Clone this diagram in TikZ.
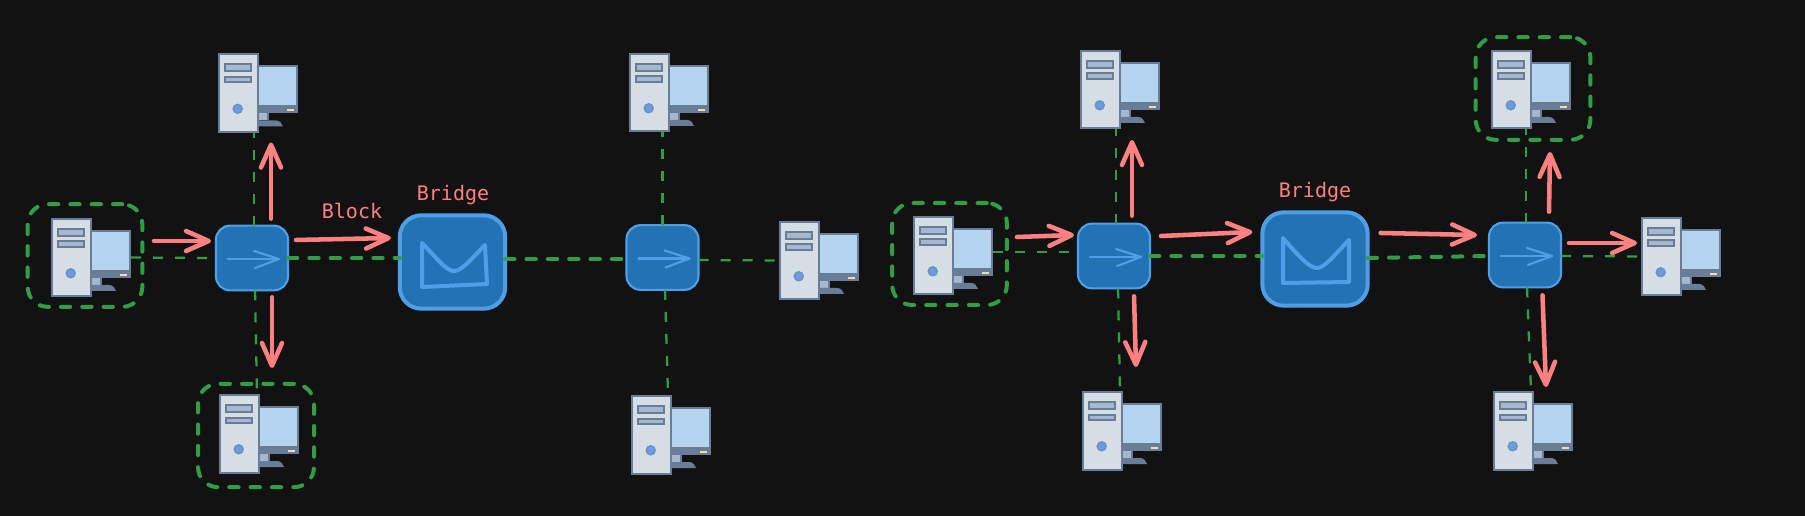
\documentclass[tikz,border=0pt]{standalone}
\usepackage{fontspec}
\setmonofont{DejaVu Sans Mono}
\usetikzlibrary{arrows.meta}
\definecolor{bgc}{HTML}{121212}
\definecolor{blueF}{HTML}{2272B4}
\definecolor{blueS}{HTML}{4F9FE8}
\definecolor{redA}{HTML}{FF8080}
\definecolor{greenD}{HTML}{2F9E44}
\definecolor{towerF}{HTML}{D5DEE5}
\definecolor{slateC}{HTML}{6A7D96}
\definecolor{bayF}{HTML}{A6B8D0}
\definecolor{screenF}{HTML}{B5D4EF}
\definecolor{ledF}{HTML}{F2DDB0}
\definecolor{powerF}{HTML}{6C9CE0}
\tikzset{
  x=0.75pt,y=-0.75pt,
  compbox/.style={minimum width=60pt,minimum height=59.25pt,inner sep=0pt,outer sep=0pt},
  switchbox/.style={draw=blueS,fill=blueF,line width=1.6pt,rounded corners=10.5pt,minimum width=54pt,minimum height=48.5pt,inner sep=0pt,outer sep=0pt},
  bridgebox/.style={draw=blueS,fill=blueF,line width=3pt,rounded corners=16pt,minimum width=79pt,minimum height=70pt,inner sep=0pt,outer sep=0pt},
  groupbox/.style={draw=greenD,line width=3pt,line cap=round,dash pattern=on 7pt off 9pt,rounded corners=15pt,inner sep=0pt,outer sep=0pt},
  thinlink/.style={draw=greenD,line width=1.7pt,dash pattern=on 7.5pt off 9pt},
  thicklink/.style={draw=greenD,line width=3pt,line cap=round,dash pattern=on 7pt off 9pt},
  flow/.style={draw=redA,line width=3.4pt,line cap=round,line join=round,-{Straight Barb[length=17pt,width=15pt,round]}},
  iconline/.style={draw=blueS,line width=1.6pt,line cap=round,line join=round},
  bridgeicon/.style={draw=blueS,line width=3pt,line cap=round,line join=round},
  lbl/.style={text=redA,font=\ttfamily\fontsize{15}{18}\selectfont,inner sep=0pt},
  computer/.pic={
    \fill[slateC] (40,12) rectangle (79.5,60);
    \fill[screenF] (41,14) rectangle (78,52);
    \fill[ledF] (69,56) rectangle (76,58);
    \fill[bayF] (40,60) rectangle (49,67);
    \fill[slateC] (49,60) rectangle (50.5,67);
    \fill[slateC] (40,67) -- (58,67) .. controls (62,67) and (64,70) .. (65,73) -- (40,73) -- cycle;
    \draw[fill=towerF,draw=slateC,line width=1.5pt] (1,1) rectangle (39.5,78.5);
    \draw[fill=bayF,draw=slateC,line width=1.5pt] (7,11) rectangle (33,18);
    \draw[fill=bayF,draw=slateC,line width=1.5pt] (7,23.5) rectangle (33,29);
    \draw[fill=powerF,draw=powerF!70!slateC,line width=1.2pt] (19.7,55.3) circle (3.3pt);
  },
  switchicon/.pic={
    \draw[iconline] (-24,1) -- (27,1);
    \draw[iconline] (2,-7) -- (27,1) -- (3,10);
  }
}
\begin{document}
\begin{tikzpicture}
\fill[bgc] (0,0) rectangle (1805,516);
\useasboundingbox (0,0) rectangle (1805,516);
% computers
\node[compbox] (c1) at (91,257.5) {};
\node[compbox] (c2) at (258,93) {};
\node[compbox] (c3) at (259,433.5) {};
\node[compbox] (c4) at (669,92.5) {};
\node[compbox] (c5) at (819,260.5) {};
\node[compbox] (c6) at (671,434.5) {};
\node[compbox] (c7) at (953,255.5) {};
\node[compbox] (c8) at (1120,89.5) {};
\node[compbox] (c9) at (1122,430.5) {};
\node[compbox] (c10) at (1531,89.5) {};
\node[compbox] (c11) at (1681,256.5) {};
\node[compbox] (c12) at (1533,430.5) {};
% group outlines
\node[groupbox,minimum width=86pt,minimum height=77pt] (g1) at (85,255.5) {};
\node[groupbox,minimum width=87pt,minimum height=77.5pt] (g3) at (256,435.5) {};
\node[groupbox,minimum width=86pt,minimum height=76.5pt] (g7) at (949.5,254) {};
\node[groupbox,minimum width=86pt,minimum height=77pt] (g10) at (1533,88.5) {};
% switches and bridges
\node[switchbox] (s1) at (252,258) {};
\node[switchbox] (s2) at (662.5,257.5) {};
\node[switchbox] (s3) at (1114,256) {};
\node[switchbox] (s4) at (1525,255) {};
\node[bridgebox] (b1) at (452.5,262) {};
\node[bridgebox] (b2) at (1315,259) {};
\pic at (s1) {switchicon};
\pic at (s2) {switchicon};
\pic at (s3) {switchicon};
\pic at (s4) {switchicon};
\draw[bridgeicon] (422,243) .. controls (440,262) and (447,271) .. (454,271) .. controls (462,271) and (472,258) .. (485,245) -- (487,284) -- (422,287) -- cycle;
\draw[bridgeicon] (1283,238) .. controls (1300,258) and (1310,268) .. (1317,268) .. controls (1325,268) and (1337,252) .. (1349,240) -- (1349,282) -- (1283,283) -- cycle;
% links
\draw[thinlink] (c1.east) -- (s1.west);
\draw[thinlink] ([shift={(2,0)}]s1.north) -- ([shift={(2,0)}]s1.north |- c2.south);
\draw[thinlink] ([shift={(3,0)}]s1.south) -- ([shift={(5,0)}]s1.south |- c3.north);
\draw[thicklink] (s1.east) -- (s1.east -| b1.west);
\draw[thicklink] ([shift={(0,-3)}]b1.east) -- ([shift={(0,1.5)}]s2.west);
\draw[thinlink] ([shift={(0,2.5)}]s2.east) -- (c5.west);
\draw[thinlink] (s2.north) -- (s2.north |- c4.south);
\draw[thinlink] ([shift={(2.5,0)}]s2.south) -- ([shift={(5.5,0)}]s2.south |- c6.north);
\draw[thinlink] ([shift={(0,-3.5)}]c7.east) -- ([shift={(0,-4)}]s3.west);
\draw[thinlink] ([shift={(2,0)}]s3.north) -- ([shift={(2,0)}]s3.north |- c8.south);
\draw[thinlink] ([shift={(4,0)}]s3.south) -- ([shift={(6,0)}]s3.south |- c9.north);
\draw[thicklink] (s3.east) -- (s3.east -| b2.west);
\draw[thicklink] ([shift={(0,-1)}]b2.east) -- ([shift={(0,1)}]s4.west);
\draw[thinlink] ([shift={(1,0)}]s4.north) -- ([shift={(1,0)}]s4.north |- c10.south);
\draw[thinlink] ([shift={(2,0)}]s4.south) -- ([shift={(6,0)}]s4.south |- c12.north);
\draw[thinlink] ([shift={(0,1)}]s4.east) -- (c11.west);
% computer drawings
\foreach \c in {c1,c2,c3,c4,c5,c6,c7,c8,c9,c10,c11,c12}{\pic at (\c.north west) {computer};}
% traffic arrows
\draw[flow] ([shift={(23,-16.5)}]c1.east) -- ([shift={(-5,-17)}]s1.west);
\draw[flow] ([shift={(19,-7)}]s1.north) -- ([shift={(13,10)}]c2.south);
\draw[flow] ([shift={(20,7)}]s1.south) -- ([shift={(13,-26)}]c3.north);
\draw[flow] ([shift={(8,-18)}]s1.east) -- ([shift={(-9,-24)}]b1.west);
\draw[flow] ([shift={(24,-18.5)}]c7.east) -- ([shift={(-4,-21)}]s3.west);
\draw[flow] ([shift={(18,-8)}]s3.north) -- ([shift={(12,11)}]c8.south);
\draw[flow] ([shift={(20,8)}]s3.south) -- ([shift={(14,-24)}]c9.north);
\draw[flow] ([shift={(11,-20)}]s3.east) -- ([shift={(-10,-27)}]b2.west);
\draw[flow] ([shift={(13,-26)}]b2.east) -- ([shift={(-12,-20)}]s4.west);
\draw[flow] ([shift={(24,-11)}]s4.north) -- ([shift={(19,23)}]c10.south);
\draw[flow] ([shift={(8,-12)}]s4.east) -- ([shift={(-4,-13.5)}]c11.west);
\draw[flow] ([shift={(17.5,8)}]s4.south) -- ([shift={(13,-4)}]c12.north);
% labels
\node[lbl] (t1) at (352,211) {Block};
\node[lbl] (t2) at (453,195.5) {Bridge};
\node[lbl] (t3) at (1315,192.5) {Bridge};
\end{tikzpicture}
\end{document}
